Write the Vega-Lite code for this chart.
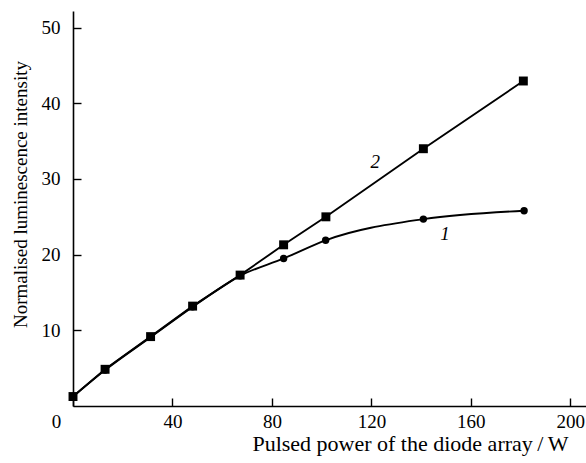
{
  "$schema": "https://vega.github.io/schema/vega-lite/v6.json",
  "width": 513,
  "height": 395,
  "autosize": "none",
  "padding": {"left": 73, "top": 11, "right": 0, "bottom": 57},
  "background": "white",
  "config": {
    "view": {"stroke": null},
    "font": "Liberation Serif",
    "axis": {
      "domainColor": "black",
      "domainWidth": 1.6,
      "tickColor": "black",
      "tickWidth": 1.4,
      "tickSize": -8,
      "grid": false,
      "labelFlush": false,
      "labelFont": "Liberation Serif",
      "labelFontSize": 19,
      "labelColor": "black",
      "titleFont": "Liberation Serif",
      "titleFontSize": 19,
      "titleFontWeight": "normal",
      "titleColor": "black"
    }
  },
  "datasets": {
    "pts": [
      {"series": "1", "x": 0, "y": 1.25},
      {"series": "1", "x": 12.9, "y": 4.75},
      {"series": "1", "x": 31.2, "y": 9.1},
      {"series": "1", "x": 48.1, "y": 13.1},
      {"series": "1", "x": 67.2, "y": 17.2},
      {"series": "1", "x": 84.7, "y": 19.5},
      {"series": "1", "x": 101.6, "y": 21.9},
      {"series": "1", "x": 140.9, "y": 24.7},
      {"series": "1", "x": 181.4, "y": 25.8},
      {"series": "2", "x": 0, "y": 1.25},
      {"series": "2", "x": 12.9, "y": 4.85},
      {"series": "2", "x": 31.2, "y": 9.17},
      {"series": "2", "x": 48.1, "y": 13.2},
      {"series": "2", "x": 67.2, "y": 17.3},
      {"series": "2", "x": 84.7, "y": 21.3},
      {"series": "2", "x": 101.7, "y": 25.0},
      {"series": "2", "x": 140.9, "y": 34.0},
      {"series": "2", "x": 181.1, "y": 42.95}
    ],
    "labs": [
      {"label": "2", "x": 121.5, "y": 32.2},
      {"label": "1", "x": 149.6, "y": 22.7}
    ]
  },
  "layer": [
    {
      "data": {"name": "pts"},
      "transform": [{"filter": "datum.series === '1'"}],
      "mark": {"type": "line", "interpolate": "monotone", "color": "black", "strokeWidth": 1.9},
      "encoding": {
        "x": {
          "field": "x", "type": "quantitative",
          "scale": {"domain": [0, 206.3], "nice": false, "zero": false},
          "axis": {
            "values": [0, 40, 80, 120, 160, 200],
            "labelPadding": 14,
            "labelOffset": {"condition": {"test": "datum.value === 0", "value": -17}, "value": 0},
            "title": "Pulsed power of the diode array\u2009/\u2009W",
            "titleFontSize": 22,
            "titleAlign": "right",
            "titleAnchor": null,
            "titleX": 495,
            "titleY": 44,
            "titleBaseline": "alphabetic"
          }
        },
        "y": {
          "field": "y", "type": "quantitative",
          "scale": {"domain": [0, 52.2], "nice": false, "zero": false},
          "axis": {
            "values": [10, 20, 30, 40, 50],
            "labelPadding": 21,
            "title": "Normalised luminescence intensity",
            "titleX": -53,
            "titleY": 183,
            "titleBaseline": "middle",
            "titleAlign": "center",
            "titleAngle": 270
          }
        }
      }
    },
    {
      "data": {"name": "pts"},
      "transform": [{"filter": "datum.series === '2'"}],
      "mark": {"type": "line", "interpolate": "linear", "color": "black", "strokeWidth": 1.9},
      "encoding": {
        "x": {"field": "x", "type": "quantitative"},
        "y": {"field": "y", "type": "quantitative"}
      }
    },
    {
      "data": {"name": "pts"},
      "transform": [{"filter": "datum.series === '1'"}],
      "mark": {"type": "point", "shape": "circle", "filled": true, "color": "black", "opacity": 1, "size": 55},
      "encoding": {
        "x": {"field": "x", "type": "quantitative"},
        "y": {"field": "y", "type": "quantitative"}
      }
    },
    {
      "data": {"name": "pts"},
      "transform": [{"filter": "datum.series === '2'"}],
      "mark": {"type": "point", "shape": "square", "filled": true, "color": "black", "opacity": 1, "size": 80},
      "encoding": {
        "x": {"field": "x", "type": "quantitative"},
        "y": {"field": "y", "type": "quantitative"}
      }
    },
    {
      "data": {"name": "labs"},
      "mark": {"type": "text", "font": "Liberation Serif", "fontStyle": "italic", "fontSize": 19, "color": "black", "align": "center", "baseline": "middle"},
      "encoding": {
        "x": {"field": "x", "type": "quantitative"},
        "y": {"field": "y", "type": "quantitative"},
        "text": {"field": "label"}
      }
    }
  ]
}
